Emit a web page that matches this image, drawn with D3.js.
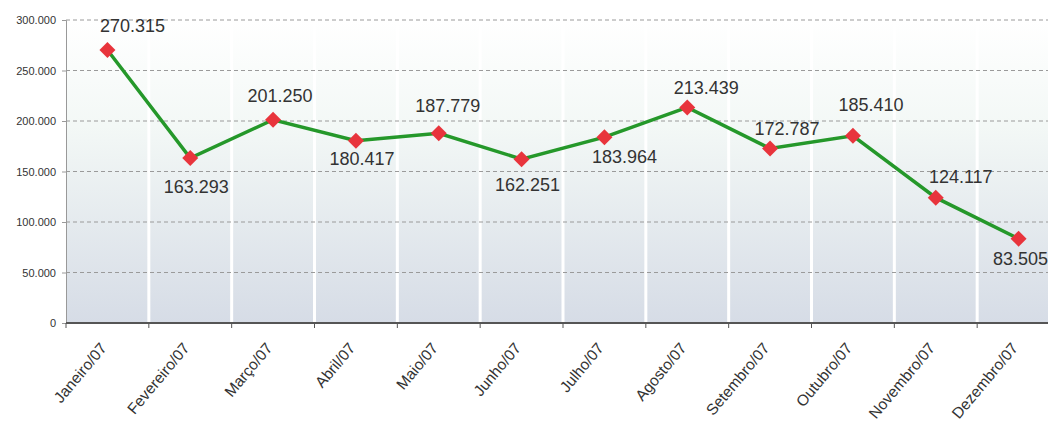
<!DOCTYPE html>
<html>
<head>
<meta charset="utf-8">
<script src="https://cdn.jsdelivr.net/npm/d3@7"></script>
<style>
  body { margin: 0; background: #fff; }
  svg { display: block; font-family: Arial, "Liberation Sans", sans-serif; }
</style>
</head>
<body>
<div id="chart"></div>
<script>
// Monthly values
const months = ['Janeiro/07', 'Fevereiro/07', 'Março/07', 'Abril/07', 'Maio/07', 'Junho/07',
  'Julho/07', 'Agosto/07', 'Setembro/07', 'Outubro/07', 'Novembro/07', 'Dezembro/07'];
const values = [270315, 163293, 201250, 180417, 187779, 162251,
  183964, 213439, 172787, 185410, 124117, 83505];
const yTicks = [0, 50000, 100000, 150000, 200000, 250000, 300000];

// label placement relative to each point (layout only)
const labelDx = [25, 6, 7, 6, 9, 6, 20, 19, 17, 18, 25, 2];
const labelDy = [-24, 29, -24, 18, -28, 26, 20, -20, -20, -31, -21, 20];

const W = 1052, H = 430;
const margin = { top: 20, right: 4, bottom: 107, left: 66 };
const plotW = W - margin.left - margin.right;
const height = H - margin.top - margin.bottom;

const svg = d3.select('#chart').append('svg')
  .attr('width', W)
  .attr('height', H);

const defs = svg.append('defs');
const grad = defs.append('linearGradient')
  .attr('id', 'bg')
  .attr('x1', 0).attr('y1', 0).attr('x2', 0).attr('y2', 1);
grad.append('stop').attr('offset', '0%').attr('stop-color', '#ffffff');
grad.append('stop').attr('offset', '35%').attr('stop-color', '#f3f8f6');
grad.append('stop').attr('offset', '100%').attr('stop-color', '#d6dce6');

const g = svg.append('g')
  .attr('transform', `translate(${margin.left},${margin.top})`);

// the category axis runs slightly past the right edge of the picture
const x = d3.scaleBand()
  .domain(months)
  .range([0, 994]);

const y = d3.scaleLinear()
  .domain([0, 300000])
  .range([height, 0]);

// plot background
g.append('rect')
  .attr('x', 0).attr('y', 0)
  .attr('width', plotW).attr('height', height)
  .attr('fill', 'url(#bg)');

// vertical white separators
g.selectAll('.vsep')
  .data(months.slice(1))
  .enter()
  .append('line')
  .attr('class', 'vsep')
  .attr('x1', d => x(d)).attr('x2', d => x(d))
  .attr('y1', 0).attr('y2', height)
  .attr('stroke', '#ffffff')
  .attr('stroke-width', 3);

// horizontal dashed gridlines
g.selectAll('.hgrid')
  .data(yTicks.slice(1))
  .enter()
  .append('line')
  .attr('class', 'hgrid')
  .attr('x1', 0).attr('x2', plotW)
  .attr('y1', d => y(d)).attr('y2', d => y(d))
  .attr('stroke', '#9a9a9a')
  .attr('stroke-width', 1)
  .attr('stroke-dasharray', '4,3');

// y axis
const yAxis = g.append('g')
  .call(d3.axisLeft(y)
    .tickValues(yTicks)
    .tickSize(4)
    .tickFormat(d => d3.format(',')(d).replace(/,/g, '.')));
yAxis.select('.domain').attr('stroke', '#999');
yAxis.selectAll('.tick line').attr('stroke', '#999');
yAxis.selectAll('.tick text')
  .attr('x', -10)
  .attr('fill', '#333')
  .style('font-size', '11px');

// x axis
g.append('line')
  .attr('x1', 0).attr('x2', plotW)
  .attr('y1', height).attr('y2', height)
  .attr('stroke', '#555')
  .attr('stroke-width', 2);

const xAxis = g.append('g')
  .attr('transform', `translate(0,${height})`)
  .call(d3.axisBottom(x).tickSize(0).tickPadding(0));
xAxis.select('.domain').remove();
xAxis.selectAll('.tick text')
  .attr('fill', '#333')
  .style('font-size', '15.5px')
  .style('text-anchor', 'end')
  .attr('transform', 'translate(-4,22) rotate(-50)')
  .attr('dy', '0.35em');

// x tick marks at band edges
g.selectAll('.xtick')
  .data(months)
  .enter()
  .append('line')
  .attr('class', 'xtick')
  .attr('x1', d => x(d)).attr('x2', d => x(d))
  .attr('y1', height).attr('y2', height + 5)
  .attr('stroke', '#555');

const cx = d => x(d) + x.bandwidth() / 2;
const data = months.map((m, i) => ({ month: m, value: values[i], dx: labelDx[i], dy: labelDy[i] }));

// line
g.append('path')
  .datum(data)
  .attr('fill', 'none')
  .attr('stroke', '#25982a')
  .attr('stroke-width', 3.5)
  .attr('d', d3.line()
    .x(d => cx(d.month))
    .y(d => y(d.value)));

// diamond markers
g.selectAll('.marker')
  .data(data)
  .enter()
  .append('path')
  .attr('class', 'marker')
  .attr('transform', d => `translate(${cx(d.month)},${y(d.value)})`)
  .attr('d', 'M0,-8L8,0L0,8L-8,0Z')
  .attr('fill', '#e8343c');

// value labels
g.selectAll('.vlabel')
  .data(data)
  .enter()
  .append('text')
  .attr('class', 'vlabel')
  .attr('x', d => cx(d.month) + d.dx)
  .attr('y', d => y(d.value) + d.dy)
  .attr('dy', '0.35em')
  .attr('text-anchor', 'middle')
  .attr('fill', '#333')
  .style('font-size', '18px')
  .text(d => d3.format(',')(d.value).replace(/,/g, '.'));
</script>
</body>
</html>
